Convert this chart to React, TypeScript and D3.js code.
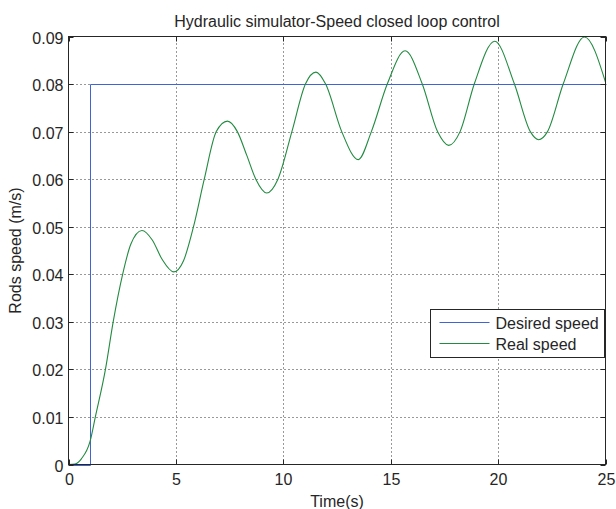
import React, { useRef, useEffect } from 'react';
import * as d3 from 'd3';

// desired speed: step at t = 1 s
const desiredTime = [0, 1, 1, 25];
const desiredSpeed = [0, 0, 0.08, 0.08];

// real speed
const realTime = [
    0, 0.3, 0.6, 1.0, 1.25, 1.72, 2.08, 2.52, 2.9, 3.42, 3.9, 4.35, 4.9, 5.36, 5.82, 6.32, 6.88, 7.4,
    7.86, 8.3, 8.72, 9.23, 9.75, 10.4, 11.03, 11.52, 11.97, 12.72, 13.49, 14.1, 14.84, 15.67, 16.47,
    17.18, 17.7, 18.23, 18.89, 19.84, 20.76, 21.5, 21.89, 22.3, 23.03, 24.02, 25,
];
const realSpeed = [
    0, 0.0001, 0.0012, 0.0048, 0.01, 0.02, 0.03, 0.04, 0.0463, 0.0492, 0.0472, 0.0432, 0.0405, 0.0429,
    0.05, 0.06, 0.07, 0.0722, 0.07, 0.065, 0.06, 0.0571, 0.06, 0.07, 0.08, 0.0825, 0.08, 0.07, 0.0641,
    0.07, 0.08, 0.087, 0.08, 0.07, 0.0671, 0.07, 0.08, 0.089, 0.08, 0.07, 0.0683, 0.07, 0.08, 0.0899,
    0.0804,
];

const xTicks = [0, 5, 10, 15, 20, 25];
const yTicks = [0, 0.01, 0.02, 0.03, 0.04, 0.05, 0.06, 0.07, 0.08, 0.09];

const legendLabels = ['Desired speed', 'Real speed'];
const seriesColors = ['#4064d0', '#228b40'];

export default function App() {
    const svgRef = useRef<SVGSVGElement | null>(null);

    useEffect(() => {
        const width = 616;
        const height = 509;
        const font = 'Liberation Sans, Arial, Helvetica, sans-serif';
        const fontSize = 16;
        const ink = '#262626';

        d3.select(svgRef.current).selectAll('*').remove();

        const svg = d3
            .select(svgRef.current)
            .attr('width', width)
            .attr('height', height);

        svg.append('rect').attr('width', width).attr('height', height).attr('fill', '#fff');

        // half pixels keep the 1px lines crisp
        const xScale = d3.scaleLinear().domain([0, 25]).range([68.5, 605.5]);
        const yScale = d3.scaleLinear().domain([0, 0.09]).range([464.5, 36.5]);

        const [x0, x1] = xScale.range();
        const [y0, y1] = yScale.range();
        const px = (v: number) => Math.round(v) + 0.5;

        // grid
        xTicks.slice(1, -1).forEach((t) => {
            svg.append('line')
                .attr('x1', px(xScale(t)))
                .attr('x2', px(xScale(t)))
                .attr('y1', y0)
                .attr('y2', y1)
                .attr('stroke', '#333')
                .attr('stroke-width', 1)
                .attr('stroke-dasharray', '1,3');
        });
        yTicks.slice(1, -1).forEach((v) => {
            svg.append('line')
                .attr('x1', x0)
                .attr('x2', x1)
                .attr('y1', px(yScale(v)))
                .attr('y2', px(yScale(v)))
                .attr('stroke', '#333')
                .attr('stroke-width', 1)
                .attr('stroke-dasharray', '1,3');
        });

        // series
        const desired = desiredTime.map((t, i) => [t, desiredSpeed[i]] as [number, number]);
        const real = realTime.map((t, i) => [t, realSpeed[i]] as [number, number]);

        const stepLine = d3
            .line<[number, number]>()
            .x((d) => px(xScale(d[0])))
            .y((d) => px(yScale(d[1])));

        const smoothLine = d3
            .line<[number, number]>()
            .x((d) => xScale(d[0]))
            .y((d) => yScale(d[1]))
            .curve(d3.curveMonotoneX);

        svg.append('path')
            .attr('d', stepLine(desired))
            .attr('fill', 'none')
            .attr('stroke', seriesColors[0])
            .attr('stroke-width', 1);

        svg.append('path')
            .attr('d', smoothLine(real))
            .attr('fill', 'none')
            .attr('stroke', seriesColors[1])
            .attr('stroke-width', 1.1);

        // box
        svg.append('rect')
            .attr('x', x0)
            .attr('y', y1)
            .attr('width', x1 - x0)
            .attr('height', y0 - y1)
            .attr('fill', 'none')
            .attr('stroke', ink)
            .attr('stroke-width', 1);

        // ticks (inside, all four sides)
        const tickLen = 5;
        xTicks.forEach((t) => {
            const x = px(xScale(t));
            svg.append('line').attr('x1', x).attr('x2', x).attr('y1', y0).attr('y2', y0 - tickLen).attr('stroke', ink);
            svg.append('line').attr('x1', x).attr('x2', x).attr('y1', y1).attr('y2', y1 + tickLen).attr('stroke', ink);
            svg.append('text')
                .attr('x', x)
                .attr('y', y0 + 20)
                .attr('text-anchor', 'middle')
                .attr('font-family', font)
                .attr('font-size', fontSize)
                .attr('fill', ink)
                .text(String(t));
        });
        yTicks.forEach((v) => {
            const y = px(yScale(v));
            svg.append('line').attr('x1', x0).attr('x2', x0 + tickLen).attr('y1', y).attr('y2', y).attr('stroke', ink);
            svg.append('line').attr('x1', x1).attr('x2', x1 - tickLen).attr('y1', y).attr('y2', y).attr('stroke', ink);
            svg.append('text')
                .attr('x', x0 - 5)
                .attr('y', y + 6)
                .attr('text-anchor', 'end')
                .attr('font-family', font)
                .attr('font-size', fontSize)
                .attr('fill', ink)
                .text(v === 0 ? '0' : v.toFixed(2));
        });

        // title and axis labels
        svg.append('text')
            .attr('x', (x0 + x1) / 2)
            .attr('y', y1 - 10)
            .attr('text-anchor', 'middle')
            .attr('font-family', font)
            .attr('font-size', fontSize)
            .attr('fill', ink)
            .text('Hydraulic simulator-Speed closed loop control');

        svg.append('text')
            .attr('x', (x0 + x1) / 2)
            .attr('y', y0 + 42)
            .attr('text-anchor', 'middle')
            .attr('font-family', font)
            .attr('font-size', fontSize)
            .attr('fill', ink)
            .text('Time(s)');

        svg.append('text')
            .attr('transform', `translate(21, ${(y0 + y1) / 2}) rotate(-90)`)
            .attr('text-anchor', 'middle')
            .attr('font-family', font)
            .attr('font-size', fontSize)
            .attr('fill', ink)
            .text('Rods speed (m/s)');

        // legend
        const lg = svg.append('g').attr('transform', 'translate(430.5, 309.5)');
        lg.append('rect')
            .attr('width', 174)
            .attr('height', 48)
            .attr('fill', '#fff')
            .attr('stroke', ink)
            .attr('stroke-width', 1);
        legendLabels.forEach((label, i) => {
            const y = 13 + i * 21;
            lg.append('line')
                .attr('x1', 9)
                .attr('x2', 59)
                .attr('y1', y)
                .attr('y2', y)
                .attr('stroke', seriesColors[i])
                .attr('stroke-width', 1);
            lg.append('text')
                .attr('x', 65)
                .attr('y', y + 6)
                .attr('font-family', font)
                .attr('font-size', fontSize)
                .attr('fill', ink)
                .text(label);
        });
    }, []);

    return (
        <svg ref={svgRef} style={{ position: 'absolute', left: 0, top: 0 }}></svg>
    );
}
